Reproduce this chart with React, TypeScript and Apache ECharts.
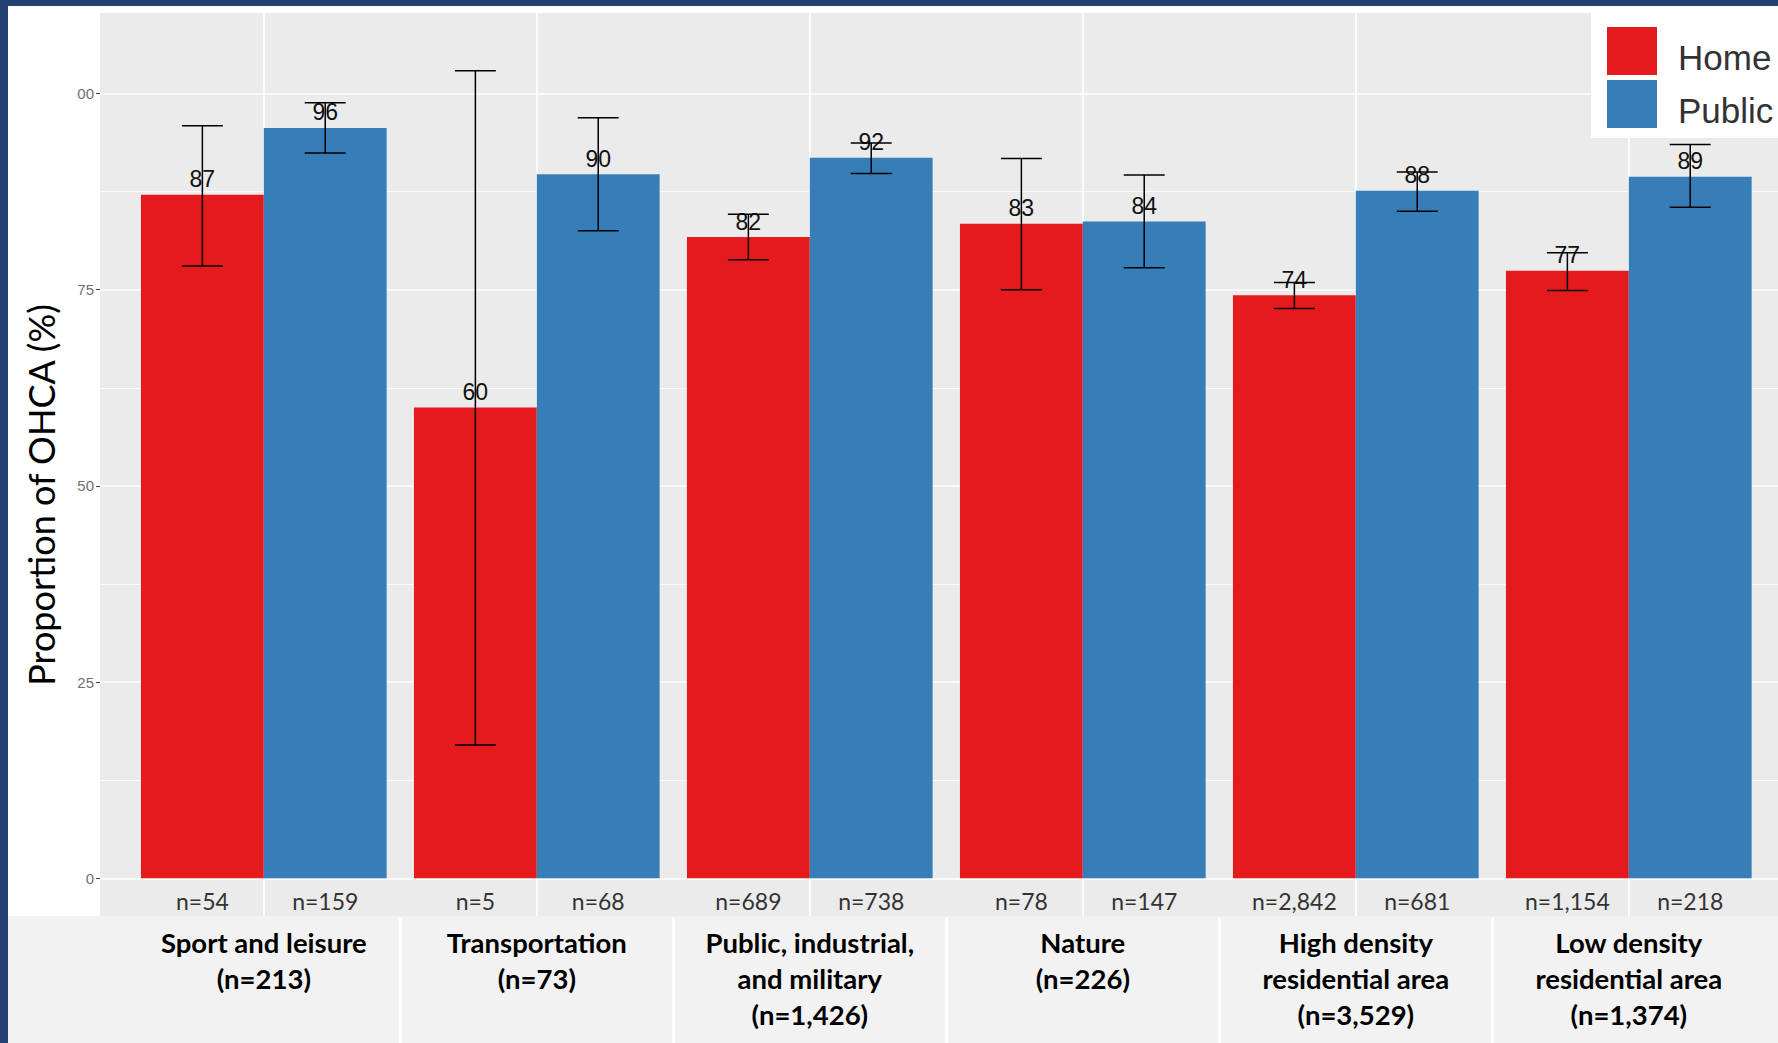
import React, { useEffect, useRef } from "react";
import * as echarts from "echarts";

// ---- data ----
const CATEGORIES = [
  "Sport and leisure\n(n=213)",
  "Transportation\n(n=73)",
  "Public, industrial,\nand military\n(n=1,426)",
  "Nature\n(n=226)",
  "High density\nresidential area\n(n=3,529)",
  "Low density\nresidential area\n(n=1,374)",
];
const SERIES_NAMES = ["Home", "Public"];
const HOME = [87.1, 60.0, 81.7, 83.4, 74.3, 77.4];
const PUBLIC = [95.6, 89.7, 91.8, 83.7, 87.6, 89.4];
const HOME_LO = [78.0, 17.0, 78.8, 75.0, 72.6, 74.9];
const HOME_HI = [95.9, 102.9, 84.6, 91.7, 75.9, 79.7];
const PUBLIC_LO = [92.4, 82.5, 89.8, 77.8, 85.0, 85.5];
const PUBLIC_HI = [98.8, 96.9, 93.7, 89.6, 90.0, 93.5];
const HOME_N = ["n=54", "n=5", "n=689", "n=78", "n=2,842", "n=1,154"];
const PUBLIC_N = ["n=159", "n=68", "n=738", "n=147", "n=681", "n=218"];
const Y_TICK_LABELS: Record<number, string> = { 0: "0", 25: "25", 50: "50", 75: "75", 100: "00" };

// ---- layout ----
const W = 1778;
const H = 1043;
const PANEL_LEFT = 100;
const PANEL_TOP = 13;
const PANEL_BOTTOM = 916;
const UNIT = 273;
const Y_MIN = -4.8;
const Y_MAX = 110.25;
const PX_PER_Y = (PANEL_BOTTOM - PANEL_TOP) / (Y_MAX - Y_MIN);
const yPx = (v: number) => PANEL_TOP + (Y_MAX - v) * PX_PER_Y;
const C1 = PANEL_LEFT + 0.6 * UNIT;
const DATA_LEFT = C1 - UNIT / 2;
const DATA_RIGHT = W - (DATA_LEFT + CATEGORIES.length * UNIT);
const N_LABEL_Y = -2.9;
const RED = "#E41A1C";
const BLUE = "#377EB8";

function errorBarSeries(name: string, lo: number[], hi: number[], side: number) {
  return {
    type: "custom",
    name: name + " CI",
    xAxisIndex: 3,
    yAxisIndex: 3,
    z: 4,
    silent: true,
    data: lo.map((l, i) => [i, l, hi[i]]),
    renderItem: (params: any, api: any) => {
      const i = api.value(0);
      const band = api.size([1, 0])[0];
      const cx = api.coord([i, 0])[0] + side * 0.225 * band;
      const yLo = api.coord([i, api.value(1)])[1];
      const yHi = api.coord([i, api.value(2)])[1];
      const half = 0.075 * band;
      const st = { stroke: "#000", lineWidth: 1.5 };
      return {
        type: "group",
        children: [
          { type: "line", shape: { x1: cx, y1: yHi, x2: cx, y2: yLo }, style: st },
          { type: "line", shape: { x1: cx - half, y1: yHi, x2: cx + half, y2: yHi }, style: st },
          { type: "line", shape: { x1: cx - half, y1: yLo, x2: cx + half, y2: yLo }, style: st },
        ],
      };
    },
  };
}

function nLabelSeries(name: string, labels: string[], side: number) {
  return {
    type: "custom",
    name: name + " n",
    xAxisIndex: 3,
    yAxisIndex: 3,
    z: 4,
    silent: true,
    data: labels.map((_, i) => [i, N_LABEL_Y]),
    renderItem: (params: any, api: any) => {
      const i = api.value(0);
      const band = api.size([1, 0])[0];
      const p = api.coord([i, api.value(1)]);
      return {
        type: "text",
        x: p[0] + side * 0.225 * band,
        y: p[1],
        style: {
          text: labels[params.dataIndex],
          fill: "#333",
          fontSize: 23,
          fontFamily: "Lato",
          align: "center",
          verticalAlign: "middle",
        },
      };
    },
  };
}

export default function App() {
  const ref = useRef<HTMLDivElement>(null);
  useEffect(() => {
    document.body.style.margin = "0";
    const chart = echarts.init(ref.current!, undefined, { renderer: "svg" });
    const hiddenAxis = (gridIndex: number, type = "value") => ({ gridIndex, type, show: false });
    chart.setOption({
      animation: false,
      backgroundColor: "#fff",
      grid: [
        // 0: panel background
        { left: PANEL_LEFT, right: 0, top: PANEL_TOP, bottom: H - PANEL_BOTTOM, show: true, backgroundColor: "#EBEBEB", borderWidth: 0 },
        // 1: y axis, horizontal gridlines
        { left: PANEL_LEFT, right: 0, top: yPx(100), bottom: H - yPx(0) },
        // 2: vertical gridlines at category centres
        { left: C1, width: 5 * UNIT, top: PANEL_TOP, bottom: H - PANEL_BOTTOM },
        // 3: data
        { left: DATA_LEFT, right: DATA_RIGHT, top: PANEL_TOP, bottom: H - PANEL_BOTTOM },
        // 4: category box separators
        { left: C1 + UNIT / 2, width: 4 * UNIT, top: PANEL_BOTTOM + 2, bottom: 0 },
      ],
      xAxis: [
        hiddenAxis(0),
        hiddenAxis(1),
        {
          gridIndex: 2, type: "value", min: 0, max: 5, interval: 1,
          axisLine: { show: false }, axisTick: { show: false }, axisLabel: { show: false },
          splitLine: { show: true, lineStyle: { color: "#fff", width: 1.7 } },
        },
        {
          gridIndex: 3, type: "category", data: CATEGORIES,
          axisLine: { show: false }, axisTick: { show: false }, splitLine: { show: false },
          axisLabel: {
            interval: 0, margin: 8, color: "#000", fontFamily: "Lato", fontWeight: "bold",
            fontSize: 27.5, lineHeight: 36, align: "center",
          },
        },
        {
          gridIndex: 4, type: "value", min: 0, max: 4, interval: 1,
          axisLine: { show: false }, axisTick: { show: false }, axisLabel: { show: false },
          splitLine: { show: true, lineStyle: { color: "#fff", width: 3 } },
        },
      ],
      yAxis: [
        hiddenAxis(0),
        {
          gridIndex: 1, type: "value", min: 0, max: 100, interval: 25,
          axisLine: { show: false },
          axisTick: { show: true, length: 4, lineStyle: { color: "#444", width: 1 } },
          axisLabel: {
            color: "#707070", fontSize: 15, fontFamily: "Liberation Sans", margin: 6,
            formatter: (v: number) => Y_TICK_LABELS[v] ?? String(v),
          },
          splitLine: { show: true, lineStyle: { color: "#fff", width: 1.7 } },
          minorTick: { show: false, splitNumber: 2 },
          minorSplitLine: { show: true, lineStyle: { color: "#fff", width: 0.8 } },
          name: "Proportion of OHCA (%)",
          nameLocation: "middle",
          nameGap: 41,
          nameTextStyle: { fontSize: 36, fontFamily: "Lato", color: "#000", padding: [0, 18, 0, 0] },
        },
        hiddenAxis(2),
        { gridIndex: 3, type: "value", min: Y_MIN, max: Y_MAX, show: false },
        hiddenAxis(4),
      ],
      legend: {
        data: SERIES_NAMES,
        orient: "vertical",
        left: 1591,
        top: PANEL_TOP,
        backgroundColor: "#fff",
        padding: [14, 12, 10, 16],
        itemWidth: 50,
        itemHeight: 48,
        itemGap: 5,
        icon: "rect",
        selectedMode: false,
        formatter: "{t|{name}}",
        textStyle: {
          rich: {
            t: { fontSize: 35, color: "#333", fontFamily: "Liberation Sans", padding: [12, 0, 0, 16] },
          },
        },
      },
      graphic: [
        { type: "rect", left: 8, top: PANEL_BOTTOM, z: -1, shape: { width: W - 8, height: H - PANEL_BOTTOM }, style: { fill: "#F2F2F2" } },
        { type: "rect", left: 0, top: 0, shape: { width: 8, height: H }, style: { fill: "#22406F" } },
        { type: "rect", left: 0, top: 0, shape: { width: W, height: 6 }, style: { fill: "#22406F" } },
      ],
      series: [
        {
          type: "bar", name: SERIES_NAMES[0], xAxisIndex: 3, yAxisIndex: 3, data: HOME,
          itemStyle: { color: RED }, barGap: "0%", barCategoryGap: "10%",
          label: {
            show: true, position: "top", distance: 4, color: "#111", fontSize: 23, fontFamily: "Liberation Sans",
            formatter: (p: any) => String(Math.round(p.value)),
          },
        },
        {
          type: "bar", name: SERIES_NAMES[1], xAxisIndex: 3, yAxisIndex: 3, data: PUBLIC,
          itemStyle: { color: BLUE }, barGap: "0%", barCategoryGap: "10%",
          label: {
            show: true, position: "top", distance: 4, color: "#111", fontSize: 23, fontFamily: "Liberation Sans",
            formatter: (p: any) => String(Math.round(p.value)),
          },
        },
        errorBarSeries(SERIES_NAMES[0], HOME_LO, HOME_HI, -1),
        errorBarSeries(SERIES_NAMES[1], PUBLIC_LO, PUBLIC_HI, 1),
        nLabelSeries(SERIES_NAMES[0], HOME_N, -1),
        nLabelSeries(SERIES_NAMES[1], PUBLIC_N, 1),
      ],
    });
    return () => chart.dispose();
  }, []);
  return <div ref={ref} style={{ width: W, height: H }} />;
}
